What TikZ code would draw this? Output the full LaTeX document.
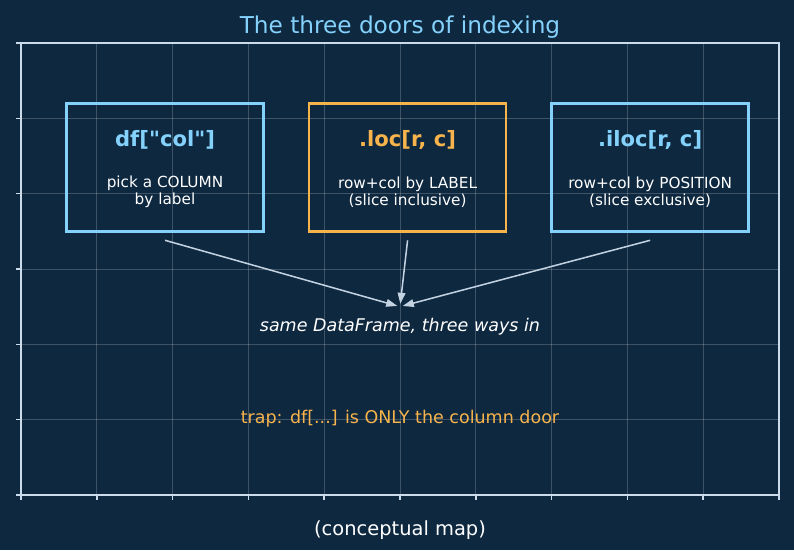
\documentclass[tikz,border=0pt]{standalone}
\usepackage{fontspec}
\setmainfont{DejaVu Sans}
\usetikzlibrary{arrows.meta}
\definecolor{bgnavy}{HTML}{0E2840}
\definecolor{doorblue}{HTML}{84D2FC}
\definecolor{doororange}{HTML}{F8B44C}
\definecolor{spinecol}{HTML}{CADCEC}
\definecolor{feedcol}{HTML}{C3D2E0}
\tikzset{
  gridline/.style={white,opacity=.2,line width=.55pt},
  spine/.style={spinecol,line width=1.1pt},
  door/.style={draw=#1,line width=1.9pt,rectangle,inner sep=0pt,
    minimum width=141.9pt,minimum height=92.2pt},
  doorhead/.style={font=\bfseries\fontsize{15.2}{18}\selectfont},
  doorbody/.style={white,align=center,font=\fontsize{11}{12.2}\selectfont},
  note/.style={font=\fontsize{12.6}{15}\selectfont},
  feed/.style={feedcol,line width=1.1pt,-{Triangle[length=8pt,width=5.5pt]},
    shorten >=2pt}
}
\begin{document}
\begin{tikzpicture}[x=54.576pt,y=54.24pt,thick]
  \fill[bgnavy] (-0.277,-0.730) rectangle (10.198,6.571);
  % grid, frame and ticks
  \foreach \i in {1,...,9} {
    \draw[gridline] (\i,0) -- (\i,6);
  }
  \foreach \j in {1,...,5} {
    \draw[gridline] (0,\j) -- (10,\j);
  }
  \draw[spine] (0,0) rectangle (10,6);
  \foreach \i in {0,...,10} {
    \draw[spine] (\i,0) -- ++(0,-3.5pt);
  }
  \foreach \j in {0,...,6} {
    \draw[spine] (0,\j) -- ++(-3.5pt,0);
  }
  \node[doorblue,font=\fontsize{16.7}{20}\selectfont] (title) at (5,6.21) {The three doors of indexing};
  \node[white,font=\fontsize{14}{17}\selectfont] (xlabel) at (5,-0.46) {(conceptual map)};
  % the three doors
  \node[door=doorblue] (colbox) at (1.9,4.35) {};
  \node[doorhead,text=doorblue] (colhead) at (1.9,4.71) {df[\textquotedbl col\textquotedbl]};
  \node[doorbody] (colbody) at (1.9,4.02) {pick a COLUMN\\by label};
  \node[door=doororange] (locbox) at (5.1,4.35) {};
  \node[doorhead,text=doororange] (lochead) at (5.1,4.71) {.loc[r, c]};
  \node[doorbody] (locbody) at (5.1,4.02) {row+col by LABEL\\(slice inclusive)};
  \node[door=doorblue] (ilocbox) at (8.3,4.35) {};
  \node[doorhead,text=doorblue] (ilochead) at (8.3,4.71) {.iloc[r, c]};
  \node[doorbody] (ilocbody) at (8.3,4.02) {row+col by POSITION\\(slice exclusive)};
  \coordinate (hub) at (5,2.5);
  \foreach \b in {colbox,locbox,ilocbox} {
    \draw[feed] ([yshift=-5.5pt]\b.south) -- (hub);
  }
  \node[note,white] (same) at (5,2.24) {\itshape same DataFrame, three ways in};
  \node[note,text=doororange] (trap) at (5,1.02) {trap: df[...] is ONLY the column door};
\end{tikzpicture}
\end{document}
